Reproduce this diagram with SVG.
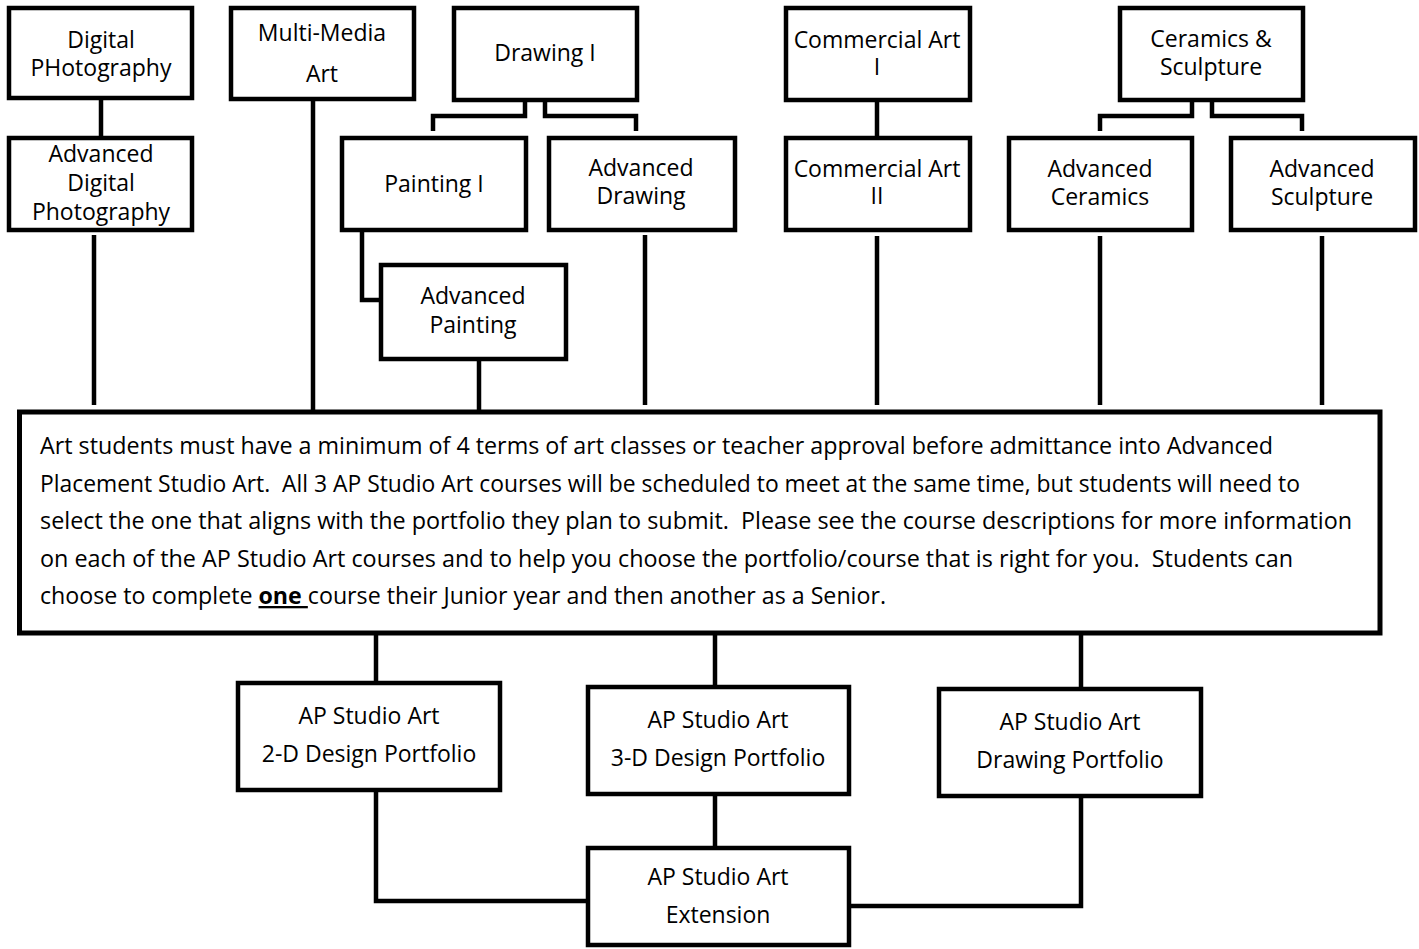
<svg xmlns="http://www.w3.org/2000/svg" width="1419" height="949" viewBox="0 0 1419 949">
<style>
.box{fill:#fff;stroke:#000;stroke-width:4.5}
.big{fill:#fff;stroke:#000;stroke-width:5}
.conn{fill:none;stroke:#000;stroke-width:4.5;stroke-linecap:butt;stroke-linejoin:miter}
.lbl{font-family:"Open Sans","Noto Sans","Liberation Sans",sans-serif;font-size:23px;fill:#000;text-anchor:middle}
.body{font-family:"Open Sans","Noto Sans","Liberation Sans",sans-serif;font-size:23px;fill:#000}
</style>
<rect width="1419" height="949" fill="#fff"/>
<g id="connectors">
<path class="conn" d="M101,100 V136"/>
<path class="conn" d="M525,100 V116 H433 V131"/>
<path class="conn" d="M545,100 V116 H636 V131"/>
<path class="conn" d="M877,100 V136"/>
<path class="conn" d="M1192,100 V116 H1100 V131"/>
<path class="conn" d="M1212,100 V116 H1302 V131"/>
<path class="conn" d="M362,230 V300 H381"/>
<path class="conn" d="M94,235 V405"/>
<path class="conn" d="M313,99 V412"/>
<path class="conn" d="M479,359 V412"/>
<path class="conn" d="M645,235 V405"/>
<path class="conn" d="M877,236 V405"/>
<path class="conn" d="M1100,236 V405"/>
<path class="conn" d="M1322,236 V405"/>
<path class="conn" d="M376,633 V683"/>
<path class="conn" d="M715,633 V687"/>
<path class="conn" d="M1081,633 V689"/>
<path class="conn" d="M376,790 V901 H588"/>
<path class="conn" d="M715,794 V848"/>
<path class="conn" d="M1081,796 V906 H849"/>
</g>
<g id="digital-photography">
<rect class="box" x="9" y="8" width="183" height="90"/>
<text class="lbl" x="101" y="48">Digital</text>
<text class="lbl" x="101" y="76">PHotography</text>
</g>
<g id="multi-media-art">
<rect class="box" x="231" y="8" width="183" height="91"/>
<text class="lbl" x="322" y="41">Multi-Media</text>
<text class="lbl" x="322" y="82">Art</text>
</g>
<g id="drawing-1">
<rect class="box" x="454" y="8" width="183" height="92"/>
<text class="lbl" x="545" y="61">Drawing I</text>
</g>
<g id="commercial-art-1">
<rect class="box" x="786" y="8" width="184" height="92"/>
<text class="lbl" x="877" y="48">Commercial Art</text>
<text class="lbl" x="877" y="75">I</text>
</g>
<g id="ceramics-sculpture">
<rect class="box" x="1120" y="8" width="183" height="92"/>
<text class="lbl" x="1211" y="47">Ceramics &amp;</text>
<text class="lbl" x="1211" y="75">Sculpture</text>
</g>
<g id="advanced-digital-photography">
<rect class="box" x="9" y="138" width="183" height="92"/>
<text class="lbl" x="101" y="162">Advanced</text>
<text class="lbl" x="101" y="191">Digital</text>
<text class="lbl" x="101" y="220">Photography</text>
</g>
<g id="painting-1">
<rect class="box" x="342" y="138" width="184" height="92"/>
<text class="lbl" x="434" y="192">Painting I</text>
</g>
<g id="advanced-drawing">
<rect class="box" x="549" y="138" width="186" height="92"/>
<text class="lbl" x="641" y="176">Advanced</text>
<text class="lbl" x="641" y="204">Drawing</text>
</g>
<g id="advanced-painting">
<rect class="box" x="381" y="265" width="185" height="94"/>
<text class="lbl" x="473" y="304">Advanced</text>
<text class="lbl" x="473" y="333">Painting</text>
</g>
<g id="commercial-art-2">
<rect class="box" x="786" y="138" width="184" height="92"/>
<text class="lbl" x="877" y="177">Commercial Art</text>
<text class="lbl" x="877" y="204">II</text>
</g>
<g id="advanced-ceramics">
<rect class="box" x="1009" y="138" width="183" height="92"/>
<text class="lbl" x="1100" y="177">Advanced</text>
<text class="lbl" x="1100" y="205">Ceramics</text>
</g>
<g id="advanced-sculpture">
<rect class="box" x="1231" y="138" width="184" height="92"/>
<text class="lbl" x="1322" y="177">Advanced</text>
<text class="lbl" x="1322" y="205">Sculpture</text>
</g>
<g id="requirements-note">
<rect class="big" x="19.5" y="412" width="1360.5" height="221"/>
<text class="body" x="40" y="454" textLength="1233" lengthAdjust="spacingAndGlyphs">Art students must have a minimum of 4 terms of art classes or teacher approval before admittance into Advanced</text>
<text class="body" x="40" y="491.5" textLength="1260" lengthAdjust="spacingAndGlyphs" xml:space="preserve">Placement Studio Art.  All 3 AP Studio Art courses will be scheduled to meet at the same time, but students will need to</text>
<text class="body" x="40" y="529" textLength="1312" lengthAdjust="spacingAndGlyphs" xml:space="preserve">select the one that aligns with the portfolio they plan to submit.  Please see the course descriptions for more information</text>
<text class="body" x="40" y="566.5" textLength="1253" lengthAdjust="spacingAndGlyphs" xml:space="preserve">on each of the AP Studio Art courses and to help you choose the portfolio/course that is right for you.  Students can</text>
<text class="body" x="40" y="604" textLength="846" lengthAdjust="spacingAndGlyphs" xml:space="preserve">choose to complete <tspan font-weight="bold" text-decoration="underline">one </tspan>course their Junior year and then another as a Senior.</text>
</g>
<g id="ap-2d-design">
<rect class="box" x="238" y="683" width="262" height="107"/>
<text class="lbl" x="369" y="724">AP Studio Art</text>
<text class="lbl" x="369" y="762">2-D Design Portfolio</text>
</g>
<g id="ap-3d-design">
<rect class="box" x="588" y="687" width="261" height="107"/>
<text class="lbl" x="718" y="728">AP Studio Art</text>
<text class="lbl" x="718" y="766">3-D Design Portfolio</text>
</g>
<g id="ap-drawing">
<rect class="box" x="939" y="689" width="262" height="107"/>
<text class="lbl" x="1070" y="730">AP Studio Art</text>
<text class="lbl" x="1070" y="768">Drawing Portfolio</text>
</g>
<g id="ap-extension">
<rect class="box" x="588" y="848" width="261" height="97"/>
<text class="lbl" x="718" y="885">AP Studio Art</text>
<text class="lbl" x="718" y="923">Extension</text>
</g>
</svg>
